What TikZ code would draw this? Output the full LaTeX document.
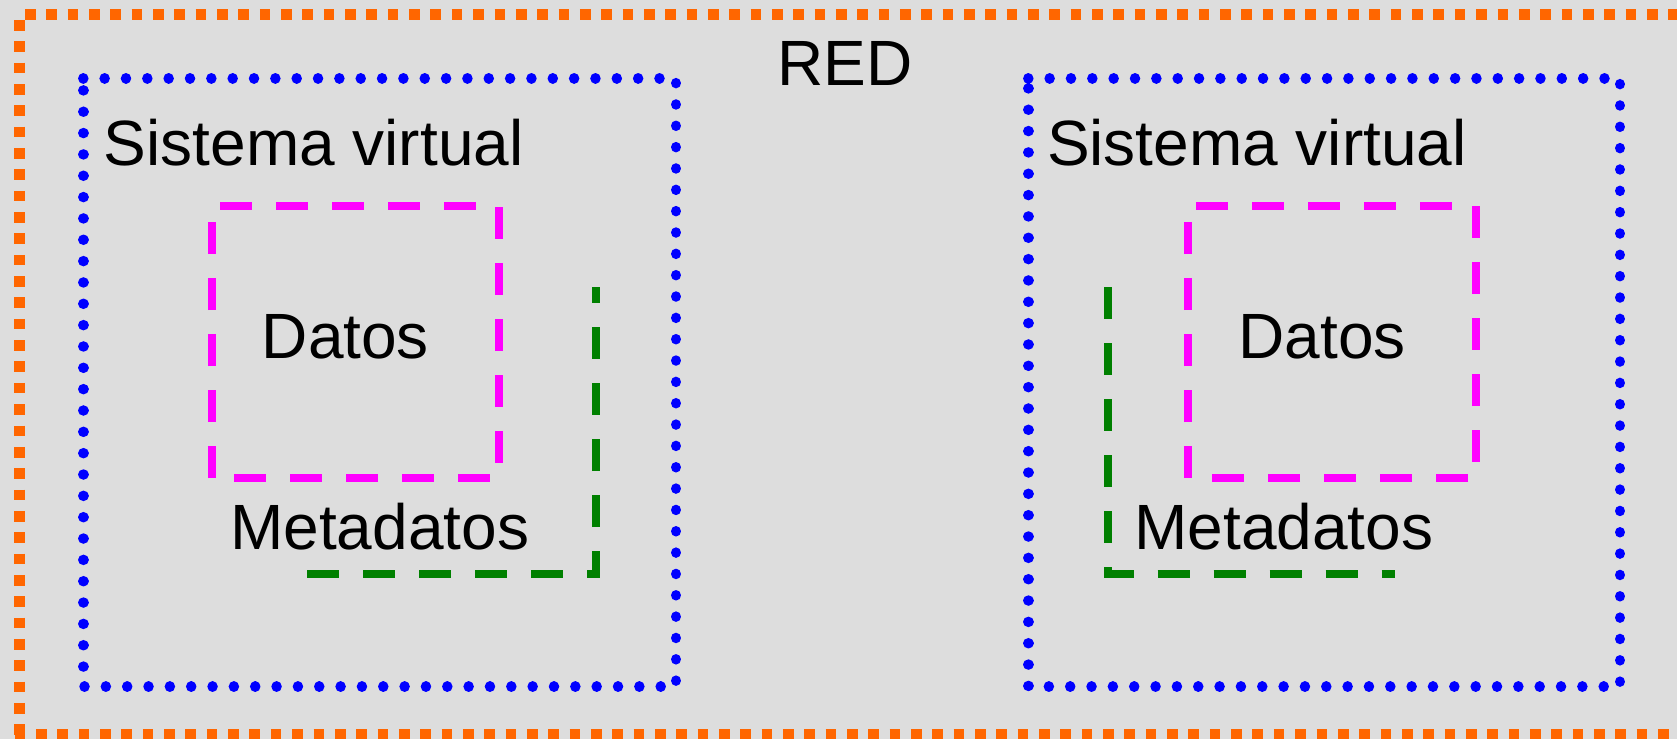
\documentclass[tikz,border=0pt]{standalone}
\usepackage{fontspec}
\setmainfont{Liberation Sans}
\definecolor{bggray}{HTML}{DDDDDD}
\definecolor{redorange}{HTML}{FF6600}
\definecolor{vblue}{HTML}{0000FF}
\definecolor{vmag}{HTML}{FF00FF}
\definecolor{vgreen}{HTML}{008000}
\tikzset{
  netline/.style={draw=redorange, line width=10.7bp, dash pattern=on 10.67bp off 10.67bp},
  sysline/.style={draw=vblue, line width=10.5bp, line cap=round, dash pattern=on 0.01bp off 21.33bp},
  dataline/.style={draw=vmag, line width=7.8bp, dash pattern=on 32bp off 24bp},
  metaline/.style={draw=vgreen, line width=8bp, dash pattern=on 32bp off 24bp},
  lbl/.style={inner sep=0pt, outer sep=0pt, anchor=base west, text=black, font=\fontsize{64bp}{72bp}\selectfont},
}
\begin{document}
\begin{tikzpicture}[x=1bp, y=-1bp]
\useasboundingbox[fill=bggray] (0,0) rectangle (1677,739);
% network (RED) border
\draw[netline, dash phase=15.83bp] (19.5,14.3) -- (1700,14.3);
\draw[netline, dash phase=15.6bp] (19.5,14.3) -- (19.5,739.3);
\draw[netline, dash phase=20.8bp] (14.2,734) -- (1700,734);
% virtual systems
\draw[sysline] (83.3,78.3) -- (676,78.3) -- (676,686.7) -- (83.3,686.7) -- cycle;
\draw[sysline] (1028.3,78.3) -- (1620,78.3) -- (1620,686.7) -- (1028.3,686.7) -- cycle;
% data boxes
\draw[dataline] (212,478) -- (212,206) -- (499,206) -- (499,478) -- cycle;
\draw[dataline] (1188,478) -- (1188,206) -- (1476,206) -- (1476,478) -- cycle;
% metadata brackets
\draw[metaline] (307,574) -- (596,574) -- (596,287);
\draw[metaline] (1108,287) -- (1108,573.5) -- (1395,573.5);
% labels
\node[lbl] (red) at (777.7,85.7) {RED};
\node[lbl] (sysL) at (103.8,165) {Sistema virtual};
\node[lbl] (sysR) at (1047,165) {Sistema virtual};
\node[lbl] (datL) at (261.8,358) {Datos};
\node[lbl] (datR) at (1238.4,358) {Datos};
\node[lbl] (metL) at (230.3,549.3) {Metadatos};
\node[lbl] (metR) at (1134.5,549.3) {Metadatos};
\end{tikzpicture}
\end{document}
